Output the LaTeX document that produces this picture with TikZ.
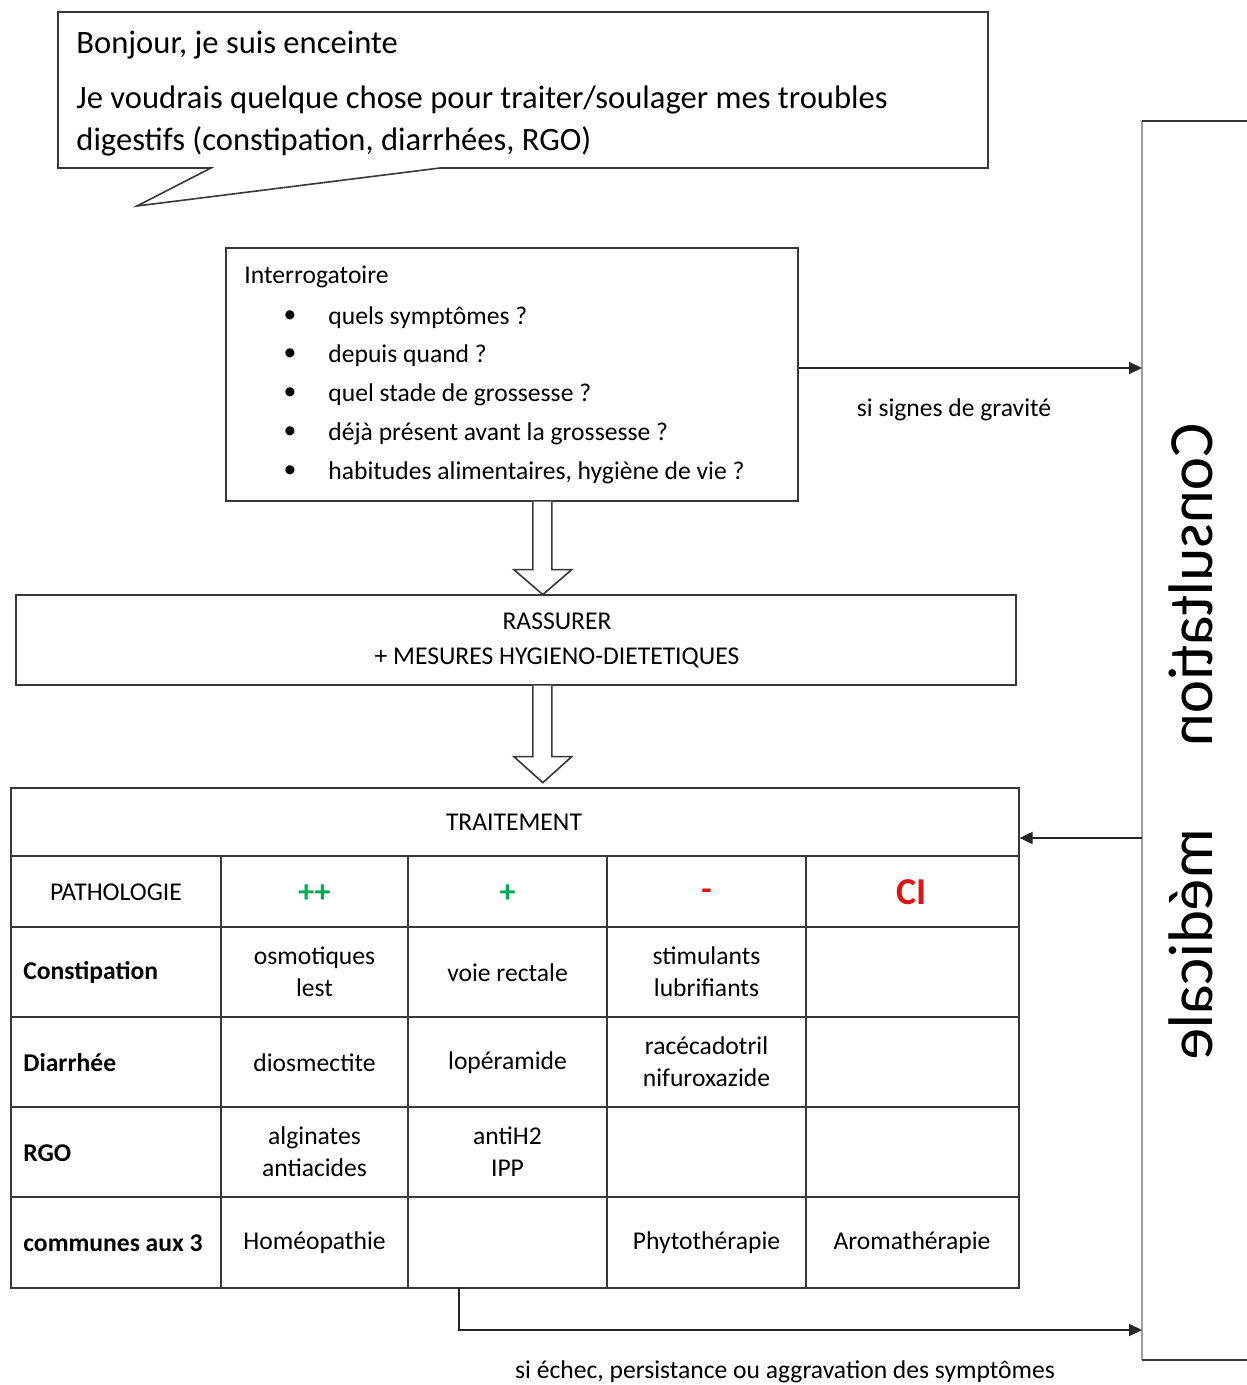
\documentclass[tikz,border=0pt]{standalone}
\usepackage{fontspec}
\setmainfont{Carlito}
\usepackage{graphicx}
\usetikzlibrary{arrows.meta,calc}
\definecolor{lin}{gray}{0.22}
\definecolor{lgray}{gray}{0.62}
\definecolor{gr}{RGB}{0,170,80}
\definecolor{rd}{RGB}{220,20,20}
\tikzset{
 box/.style={draw=lin, line width=0.8pt, anchor=north west, inner sep=0pt},
 hollow/.style={draw=lin, line width=0.8pt, fill=white, line join=miter},
 conn/.style={draw=black!85, line width=1pt, -{Triangle[length=6.5pt,width=6pt]}},
 txt/.style={font=\fontsize{12.8}{16}\selectfont, inner sep=0pt},
 txtb/.style={font=\fontsize{12.8}{16}\selectfont\bfseries, inner sep=0pt},
 big/.style={font=\fontsize{16.3}{20.5}\selectfont, inner sep=0pt},
 cell/.style={txt, align=center},
}
\begin{document}
\begin{tikzpicture}[x=0.5pt,y=-0.5pt]
\useasboundingbox (0,0) rectangle (1246,1385);

% speech bubble
\draw[draw=lin, line width=0.8pt, line join=miter, fill=white]
  (58,12) -- (988,12) -- (988,168) -- (440,168) -- (137,206) -- (211,168) -- (58,168) -- cycle;
\node[big, anchor=west] (b1) at (76,45) {Bonjour, je suis enceinte};
\node[big, anchor=west] (b2) at (76,100) {Je voudrais quelque chose pour traiter/soulager mes troubles};
\node[big, anchor=west] (b3) at (76,141) {digestifs (constipation, diarrhées, RGO)};

% interrogatoire
\node[box, minimum width=286pt, minimum height=126.5pt] (interro) at (225,247) {};
\node[txt, anchor=west] (i0) at (244,277) {Interrogatoire};
\foreach \y/\s [count=\k] in {318/{quels symptômes ?},356/{depuis quand ?},395/{quel stade de grossesse ?},434/{déjà présent avant la grossesse ?},473/{habitudes alimentaires, hygiène de vie ?}}{
  \node[txt] (dot\k) at (290,\y-1) {•};
  \node[txt, anchor=west] (it\k) at (328,\y) {\s};
}

% rassurer
\node[box, minimum width=500pt, minimum height=45pt] (rassurer) at (15,594) {};
\node[txt] (r1) at (557,621) {RASSURER};
\node[txt] (r2) at (557,658) {+ MESURES HYGIENO-DIETETIQUES};

% hollow arrows
\draw[hollow] ([xshift=10.5pt]interro.south) -- ++(0,68) -- ++(-19,0) -- ++(29,25) -- ++(29,-25) -- ++(-20,0) -- ++(0,-68);
\draw[hollow] ([xshift=8.5pt]rassurer.south) -- ++(0,71) -- ++(-19,0) -- ++(29,26) -- ++(29,-26) -- ++(-20,0) -- ++(0,-71);

% table
\node[box, minimum width=504pt, minimum height=250pt] (table) at (10,787) {};
\foreach \y in {856,927,1017,1107,1197}{\draw[draw=lin, line width=0.8pt] (10,\y) -- (1018,\y);}
\foreach \x in {221,408,607,806}{\draw[draw=lin, line width=0.8pt] (\x,856) -- (\x,1287);}
\node[txt] (th) at (514,822) {TRAITEMENT};
\node[txt] (h1) at (116,892) {PATHOLOGIE};
\node[font=\fontsize{16}{16}\selectfont\bfseries, text=gr, inner sep=0pt] (h2) at (314.5,894) {++};
\node[font=\fontsize{16}{16}\selectfont\bfseries, text=gr, inner sep=0pt] (h3) at (507.5,894) {+};
\node[font=\fontsize{17}{17}\selectfont\bfseries, text=rd, inner sep=0pt] (h4) at (706.5,895) {-};
\node[font=\fontsize{19}{19}\selectfont\bfseries, text=rd, inner sep=0pt] (h5) at (912,892) {CI};

\node[txtb, anchor=west] (l1) at (23,973) {Constipation};
\node[txtb, anchor=west] (l2) at (23,1063) {Diarrhée};
\node[txtb, anchor=west] (l3) at (23,1153) {RGO};
\node[txtb, anchor=west] (l4) at (23,1243) {communes aux 3};

\node[cell] (c11) at (314.5,972) {osmotiques\\lest};
\node[cell] (c12) at (507.5,973) {voie rectale};
\node[cell] (c13) at (706.5,972) {stimulants\\lubrifiants};
\node[cell] (c21) at (314.5,1063) {diosmectite};
\node[cell] (c22) at (507.5,1063) {lopéramide};
\node[cell] (c23) at (706.5,1062) {racécadotril\\nifuroxazide};
\node[cell] (c31) at (314.5,1152) {alginates\\antiacides};
\node[cell] (c32) at (507.5,1152) {antiH2\\IPP};
\node[cell] (c41) at (314.5,1243) {Homéopathie};
\node[cell] (c43) at (706.5,1243) {Phytothérapie};
\node[cell] (c44) at (912,1243) {Aromathérapie};

% consultation medicale
\coordinate (ctop) at (1142,121);
\coordinate (cbot) at (1142,1360);
\draw[draw=lgray, line width=0.9pt] (ctop) -- (cbot);
\draw[draw=lin, line width=0.9pt] (ctop) -- (1260,121);
\draw[draw=lin, line width=0.9pt] (cbot) -- (1260,1360);
\node[inner sep=0pt, font=\fontsize{31.5}{31.5}\selectfont] (consult) at (1191,742)
  {\reflectbox{\rotatebox{-90}{Consultation\hspace{41pt}médicale}}};

% connectors
\coordinate (ya) at (0,368);
\coordinate (yb) at (0,838);
\coordinate (yc) at (0,1330);
\draw[conn] (interro.east |- ya) -- (ctop |- ya);
\node[txt] (lab1) at (954,410) {si signes de gravité};
\draw[conn] (ctop |- yb) -- (table.east |- yb);
\coordinate (tstart) at (459,1287);
\draw[conn] (tstart) -- (tstart |- yc) -- (ctop |- yc);
\node[txt] (lab2) at (785,1372) {si échec, persistance ou aggravation des symptômes};
\end{tikzpicture}
\end{document}
